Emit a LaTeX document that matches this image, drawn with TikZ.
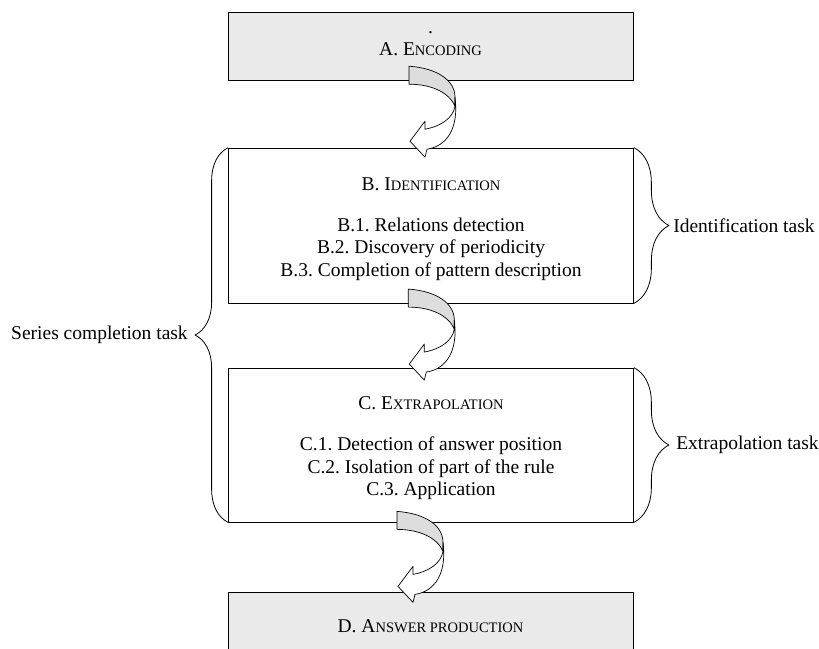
\documentclass[tikz,border=0pt]{standalone}
\usepackage{fontspec}
\setmainfont{Liberation Serif}
\usetikzlibrary{positioning, calc, decorations.pathreplacing}
\definecolor{shade}{RGB}{234, 234, 234}
\definecolor{backband}{RGB}{221, 221, 221}
\newcommand{\sck}[1]{{\fontsize{14.5}{22.5}\selectfont\MakeUppercase{#1}}}
\frenchspacing

\begin{document}
\begin{tikzpicture}[x=1pt, y=1pt, font=\fontsize{19.5}{22.5}\selectfont,
    stage/.style={rectangle, draw, line width=1pt, fill=shade, minimum width=405pt,
                  minimum height=68pt, align=center, inner sep=0pt},
    phase/.style={rectangle, draw, line width=0.75pt, minimum width=405pt,
                  align=center, inner sep=0pt},
    taskbrace/.style={decorate, decoration={brace, amplitude=#1}, line width=0.8pt},
    tasklabel/.style={inner sep=0pt},
    bentarrow/.pic={
        \draw[line width=0.7pt, fill=backband, line join=round]
            (0,0) .. controls (28,-2) and (46,-14) .. (46,-31) -- (46,-40)
            .. controls (40,-26) and (22,-18) .. (0,-18) -- cycle;
        \draw[line width=0.7pt, fill=white, line join=round]
            (46,-31) .. controls (50,-62) and (38,-80) .. (18,-83) -- (16,-91) -- (1,-75)
            -- (16,-55) -- (16,-63) .. controls (32,-60) and (44,-52) .. (46,-40) -- cycle;
    }]
    \clip (0,0) rectangle (819,-648);

    \node[stage] (encoding) at (430.5,-46) {.\\A. E\sck{ncoding}\\[-17.5pt]\mbox{}};
    \node[phase, minimum height=155pt] (ident) at (431,-225.5)
        {\rule{0pt}{20pt}B. I\sck{dentification}\\[18.5pt]B.1. Relations detection\\B.2. Discovery of periodicity\\B.3. Completion of pattern description};
    \node[phase, minimum height=154pt] (extra) at (431,-445)
        {\rule{0pt}{19.5pt}C. E\sck{xtrapolation}\\[18.5pt]C.1. Detection of answer position\\C.2. Isolation of part of the rule\\C.3. Application};
    \node[stage] (answer) at (430.5,-626) {D. A\sck{nswer production}};

    \draw[taskbrace=33pt] (extra.south west) -- node[tasklabel, left=40pt] (series) {Series completion task} (ident.north west);
    \draw[taskbrace=35pt] (ident.north east) -- node[tasklabel, right=39pt] (identtask) {Identification task} (ident.south east);
    \draw[taskbrace=35pt] (extra.north east) -- node[tasklabel, right=42pt] (extratask) {Extrapolation task} (extra.south east);

    \pic at ($(encoding.south)+(-21.5,14.3)$) {bentarrow};
    \pic at ($(ident.south)+(-22.7,14.3)$) {bentarrow};
    \pic at ($(extra.south)+(-34,11)$) {bentarrow};
\end{tikzpicture}
\end{document}
